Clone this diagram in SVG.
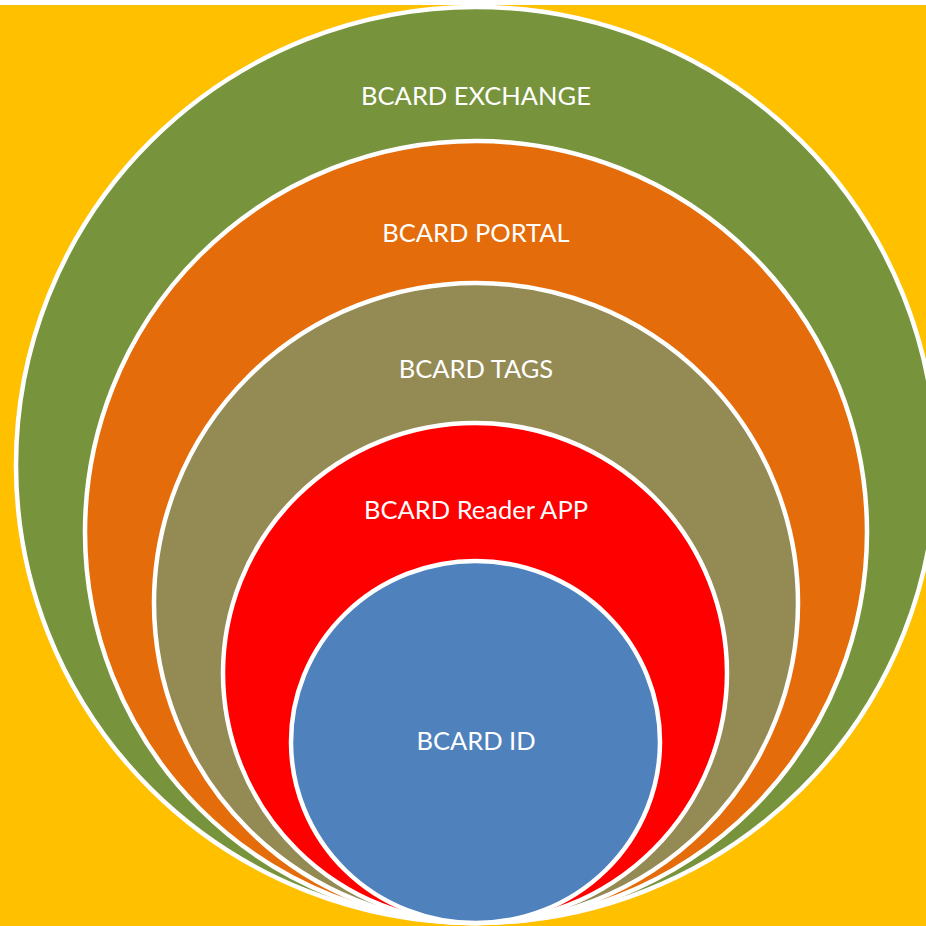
<svg xmlns="http://www.w3.org/2000/svg" width="926" height="926" viewBox="0 0 926 926">
  <style>
    .ring { stroke: #FFFFFF; stroke-width: 4.5; }
    .lbl { font-family: "Lato", "Open Sans", "Liberation Sans", sans-serif; font-size: 25.5px; fill: #FFFFFF; text-anchor: middle; }
  </style>
  <rect x="0" y="0" width="926" height="926" fill="#FFFFFF"/>
  <rect x="0" y="5" width="926" height="921" fill="#FFC000"/>
  <g id="exchange">
    <ellipse class="ring" cx="476" cy="465" rx="460" ry="458" fill="#77933C"/>
    <text class="lbl" x="476" y="105">BCARD EXCHANGE</text>
  </g>
  <g id="portal">
    <ellipse class="ring" cx="476" cy="532" rx="391" ry="391" fill="#E46C0A"/>
    <text class="lbl" x="476" y="242">BCARD PORTAL</text>
  </g>
  <g id="tags">
    <ellipse class="ring" cx="476" cy="603" rx="322" ry="320" fill="#948A54"/>
    <text class="lbl" x="476" y="378">BCARD TAGS</text>
  </g>
  <g id="reader">
    <ellipse class="ring" cx="475" cy="673" rx="252" ry="250" fill="#FF0000"/>
    <text class="lbl" x="476" y="519">BCARD Reader APP</text>
  </g>
  <g id="id">
    <ellipse class="ring" cx="475.5" cy="742" rx="184.5" ry="181" fill="#4F81BD"/>
    <text class="lbl" x="476" y="750">BCARD ID</text>
  </g>
  <g id="connectors"/>
</svg>
